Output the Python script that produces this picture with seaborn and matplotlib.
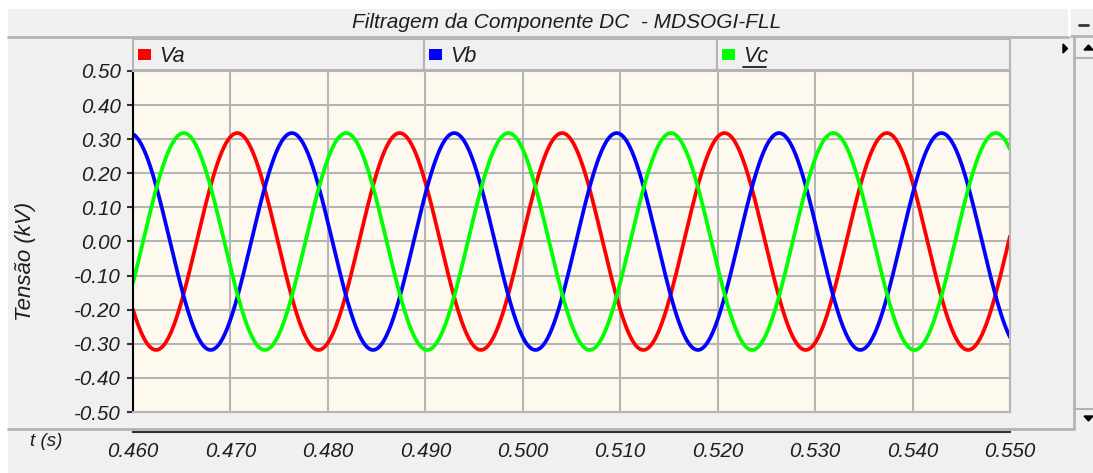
import numpy as np
import pandas as pd
import seaborn as sns
import matplotlib
matplotlib.use("Agg")
import matplotlib.pyplot as plt
from matplotlib.patches import Rectangle, Polygon
from matplotlib.lines import Line2D

# ---------------- data ----------------
title = "Filtragem da Componente DC  - MDSOGI-FLL"
series_names = ["Va", "Vb", "Vc"]
series_colors = ["#ff0000", "#0000ff", "#00ff00"]
amplitude_kv = [0.318, 0.318, 0.318]        # peak value of each phase (kV)
frequency_hz = [60.0, 60.0, 60.0]           # fundamental frequency
peak_time_s = [0.4707, 0.4763, 0.4652]      # time of a positive peak of each phase
t_start, t_end = 0.460, 0.550
x_ticks = [0.460, 0.470, 0.480, 0.490, 0.500, 0.510, 0.520, 0.530, 0.540, 0.550]
x_tick_labels = ["0.460", "0.470", "0.480", "0.490", "0.500",
                 "0.510", "0.520", "0.530", "0.540", "0.550"]
y_ticks = [0.50, 0.40, 0.30, 0.20, 0.10, 0.00, -0.10, -0.20, -0.30, -0.40, -0.50]
y_tick_labels = ["0.50", "0.40", "0.30", "0.20", "0.10", "0.00",
                 "-0.10", "-0.20", "-0.30", "-0.40", "-0.50"]
y_label = "Tensão (kV)"
x_label = "t (s)"

t = np.linspace(t_start, t_end, 3000)
frames = []
for name, a, f, tp in zip(series_names, amplitude_kv, frequency_hz, peak_time_s):
    frames.append(pd.DataFrame({"t": t, "v": a * np.cos(2 * np.pi * f * (t - tp)), "fase": name}))
df = pd.concat(frames, ignore_index=True)

# ---------------- style ----------------
sns.set_style("white")
plt.rcParams["font.family"] = ["Liberation Sans", "DejaVu Sans"]
plt.rcParams["font.style"] = "italic"

W, H = 1093, 473
fig = plt.figure(figsize=(W / 100, H / 100), dpi=100)
fig.patch.set_facecolor("#f0f0f0")
TXT = "#1e1e1e"

def fx(px):
    return px / W

def fy(py):
    return 1 - py / H

def rect(x0, y0, x1, y1, fc, ec="none", lw=0, z=0):
    fig.add_artist(Rectangle((fx(x0), fy(y1)), fx(x1) - fx(x0), fy(y0) - fy(y1),
                             transform=fig.transFigure, facecolor=fc, edgecolor=ec,
                             linewidth=lw, zorder=z))

def hline(x0, x1, y, c, lw=1.5, z=1):
    fig.add_artist(Line2D([fx(x0), fx(x1)], [fy(y), fy(y)], transform=fig.transFigure,
                          color=c, linewidth=lw, zorder=z))

def vline(x, y0, y1, c, lw=1.5, z=1):
    fig.add_artist(Line2D([fx(x), fx(x)], [fy(y0), fy(y1)], transform=fig.transFigure,
                          color=c, linewidth=lw, zorder=z))

# white frame at top / left
rect(0, 0, W, 9, "white", z=0)
rect(0, 0, 8, H, "white", z=0)
# title bar
hline(8, 1068, 37.5, "#b4b4b4", lw=2)
rect(1068, 9, 1071, 37, "white", z=0)
hline(1071, W, 36, "#b4b4b4", lw=2)
hline(1079, 1088, 25, "#333333", lw=2)
fig.text(fx(567), fy(23), title, ha="center", va="center", fontsize=15, color=TXT)

# separator below plot, scrollbar
hline(8, 1074, 429, "#b4b4b4", lw=2)
vline(1074, 37, 429, "#b4b4b4", lw=2)
hline(1075, W, 58, "#b4b4b4", lw=1.5)
hline(1075, W, 409, "#b4b4b4", lw=1.5)
fig.add_artist(Polygon([[fx(1084), fy(50)], [fx(1093), fy(50)], [fx(1088.5), fy(45)]],
                       transform=fig.transFigure, color="black", zorder=2))
fig.add_artist(Polygon([[fx(1084), fy(416)], [fx(1093), fy(416)], [fx(1088.5), fy(421)]],
                       transform=fig.transFigure, color="black", zorder=2))
fig.add_artist(Polygon([[fx(1063), fy(44)], [fx(1063), fy(53)], [fx(1067.5), fy(48.5)]],
                       transform=fig.transFigure, color="black", zorder=2))

# legend bar
cells = [(133, 424), (424, 717), (717, 1010)]
for (c0, c1), name, col in zip(cells, series_names, series_colors):
    rect(c0, 39, c1, 70, "#f0f0f0", ec="#b4b4b4", lw=1.5, z=1)
    rect(c0 + 5, 49, c0 + 18, 60, col, z=2)
    fig.text(fx(c0 + 26), fy(56), name, ha="left", va="center", fontsize=15.5,
             color=TXT, zorder=3)
    if name == "Vc":
        hline(c0 + 26, c0 + 49, 67, TXT, lw=1.3, z=3)

# ---------------- main plot ----------------
ax = fig.add_axes([fx(133), fy(412), fx(1010) - fx(133), fy(71) - fy(412)])
ax.set_facecolor("#fdf9ef")
sns.lineplot(data=df, x="t", y="v", hue="fase", palette=series_colors,
             legend=False, linewidth=2.7, ax=ax, estimator=None, sort=False)
ax.set_xlim(t_start, t_end)
ax.set_ylim(-0.5, 0.5)
ax.set_xticks(x_ticks)
ax.set_yticks(y_ticks)
ax.set_yticklabels(y_tick_labels)
ax.tick_params(axis="x", bottom=False, labelbottom=False)
ax.tick_params(axis="y", left=True, direction="out", length=4.5, width=1.5,
               color="#333333", labelsize=14.8, pad=4.5, labelcolor=TXT)
ax.grid(True, color="#b4b4b4", linewidth=1.5)
ax.set_axisbelow(True)
for s in ["top", "right", "bottom"]:
    ax.spines[s].set_color("#b4b4b4")
    ax.spines[s].set_linewidth(1.5)
ax.spines["left"].set_color("black")
ax.spines["left"].set_linewidth(1.5)
ax.set_xlabel("")
ax.set_ylabel("")
fig.text(fx(25), fy(261), y_label, rotation=90, ha="center", va="center",
         fontsize=16, color=TXT)

# separate time axis
ax2 = fig.add_axes([fx(133), fy(432), fx(1010) - fx(133), 0.0001])
ax2.set_facecolor("none")
ax2.set_xlim(t_start, t_end)
ax2.set_yticks([])
ax2.set_xticks(x_ticks)
ax2.set_xticklabels(x_tick_labels)
ax2.tick_params(axis="x", direction="out", length=5.5, width=1.5, color="#333333",
                labelsize=14.8, pad=2, labelcolor=TXT)
for s in ["top", "left", "right"]:
    ax2.spines[s].set_visible(False)
ax2.spines["bottom"].set_color("#333333")
ax2.spines["bottom"].set_linewidth(1.5)
fig.text(fx(46), fy(441), x_label, ha="center", va="center", fontsize=13.5, color=TXT)

fig.savefig("out.png", dpi=100, facecolor=fig.get_facecolor())
